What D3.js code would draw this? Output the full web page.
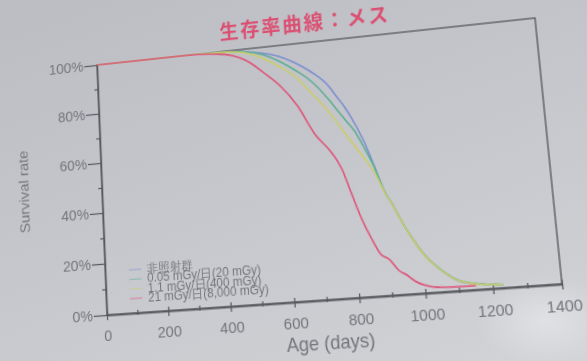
<!DOCTYPE html>
<html><head><meta charset="utf-8">
<script src="https://cdn.jsdelivr.net/npm/d3@7"></script>
<style>
html,body{margin:0;padding:0;width:587px;height:361px;overflow:hidden;}
body{background:linear-gradient(160deg,#bcbdc3 0%,#c5c6cb 45%,#cdced2 80%,#d3d4d8 100%);}
#glare{position:absolute;left:0;top:0;}
#chart{position:absolute;left:0;top:0;transform-origin:0 0;filter:blur(0.45px);}
text{font-family:"Liberation Sans",Arial,sans-serif;}
</style></head><body>
<svg id="glare" width="587" height="361">
  <defs><radialGradient id="gl" cx="0.5" cy="0.5" r="0.5">
    <stop offset="0" stop-color="#ffffff" stop-opacity="0.35"/>
    <stop offset="1" stop-color="#ffffff" stop-opacity="0"/></radialGradient></defs>
  <ellipse cx="545" cy="320" rx="70" ry="45" fill="url(#gl)"/>
</svg>
<svg id="chart" width="587" height="361"></svg>
<script>
// ---- data ----
const titleText = "生存率曲線：メス";
const xLabel = "Age (days)";
const yLabel = "Survival rate";
const xTicks = [0,200,400,600,800,1000,1200,1400];
const xMinor = [100,300,500,700,900,1100,1300];
const yTicks = [0,20,40,60,80,100];
const yMinor = [10,30,50,70,90];
const seriesNames = ["非照射群","0.05 mGy/日(20 mGy)","1.1 mGy/日(400 mGy)","21 mGy/日(8,000 mGy)"];
const seriesColors = ["#7b8fd0","#5fae95","#c9cd6a","#de5579"];
const days =    [0,100,200,300,350,400,450,500,550,600,650,700,750,775,800,825,850,875,900,925,950,975,1000,1050,1100,1150,1200,1230];
const control = [100,100,100,100,100,99.8,99.5,98.8,97.6,95.7,92.5,88.2,82.3,77.5,72.6,66.4,59,49.6,39.5,33.3,26.5,20.5,15.3,8.3,3.8,2.2,1.5,1.3];
const dose005 = [100,100,100,100,100,99.8,99.5,98.8,97,93.8,89.5,84.3,76.6,72,67.5,63,56.4,49,39.7,33.3,26.3,20.5,15.3,8.5,4,2.3,1.5,1.3];
const dose11 =  [100,100,100,100,100,99.8,99.4,98.2,95.5,91.6,86.8,79.4,71.3,66.5,61.5,56.7,51.9,46.8,39.3,33.2,26.4,20.4,15.2,8.3,3.9,2.2,1.5,1.3];
const dose21 =  [100,100,100,100,99.8,99.2,98,95,89.7,83.8,75.4,63.4,55.3,49.3,39.4,29.6,22,15.7,13.5,9.3,7.1,4.5,3,1.8,1.6,1.5,null,null];
const seriesValues = [control,dose005,dose11,dose21];

// ---- layout ----
const svg = d3.select("#chart");
const x = d3.scaleLinear().domain([0,1400]).range([100,550]);
const y = d3.scaleLinear().domain([0,100]).range([310,60]);
const axisCol = "#57585e", textCol = "#74757b";

// frame
svg.append("rect").attr("x",x(0)).attr("y",y(100)).attr("width",x(1400)-x(0)).attr("height",y(0)-y(100))
  .attr("fill","none").attr("stroke",axisCol).attr("stroke-width",1.3);

// y axis
svg.append("g").attr("transform",`translate(${x(0)},0)`)
  .call(d3.axisLeft(y).tickValues(yTicks).tickFormat(d=>d+"%").tickSize(14).tickSizeOuter(0).tickPadding(1));
svg.append("g").attr("transform",`translate(${x(0)},0)`)
  .call(d3.axisLeft(y).tickValues(yMinor).tickFormat("").tickSize(4).tickSizeOuter(0));
// x axis
const gx = svg.append("g").attr("transform",`translate(0,${y(0)})`)
  .call(d3.axisBottom(x).tickValues(xTicks).tickFormat(d3.format("d")).tickSize(5).tickSizeOuter(0).tickPadding(9));
gx.selectAll(".tick line").attr("y1",-4);
const gxm = svg.append("g").attr("transform",`translate(0,${y(0)})`)
  .call(d3.axisBottom(x).tickValues(xMinor).tickFormat("").tickSize(2).tickSizeOuter(0));
gxm.selectAll(".tick line").attr("y1",-3);
svg.selectAll(".domain").attr("stroke",axisCol).attr("stroke-width",1.3);
svg.selectAll(".tick line").attr("stroke",axisCol).attr("stroke-width",1.2);
svg.selectAll(".tick text").attr("fill",textCol).style("font-size","15px");

// curves
const line = d3.line().defined(d=>d[1]!=null).x(d=>x(d[0])).y(d=>y(d[1])).curve(d3.curveMonotoneX);
seriesValues.forEach((vals,i)=>{
  svg.append("path").datum(days.map((d,j)=>[d,vals[j]]))
    .attr("fill","none").attr("stroke",seriesColors[i]).attr("stroke-width",1.6).attr("d",line);
});

// legend
const lg = svg.append("g");
seriesNames.forEach((n,i)=>{
  const yy = 268 + i*9.3;
  lg.append("line").attr("x1",125).attr("x2",138).attr("y1",yy).attr("y2",yy)
    .attr("stroke",seriesColors[i]).attr("stroke-width",1).attr("opacity",0.6);
  lg.append("text").attr("x",144).attr("y",yy).attr("dy","0.35em").attr("fill",textCol)
    .style("font-size","12px").text(n);
});

// titles
svg.append("text").attr("x",321).attr("y",48).attr("text-anchor","middle").attr("fill","#db5072")
  .style("font-family","'Noto Sans CJK JP',sans-serif").style("font-weight","bold").style("font-size","20px")
  .style("letter-spacing","2px").text(titleText);
svg.append("text").attr("transform","translate(15,182) rotate(-90)").attr("text-anchor","middle").attr("dy","0.35em")
  .attr("fill",textCol).style("font-size","15px").text(yLabel);
svg.append("text").attr("x",326).attr("y",350).attr("text-anchor","middle").attr("dy","0.35em")
  .attr("fill",textCol).style("font-size","18px").text(xLabel);

// ---- photo perspective: map the flat plot frame onto the photographed quadrilateral ----
function homography(src,dst){
  const A=[],b=[];
  for(let i=0;i<4;i++){
    const [sx,sy]=src[i],[dx,dy]=dst[i];
    A.push([sx,sy,1,0,0,0,-dx*sx,-dx*sy]); b.push(dx);
    A.push([0,0,0,sx,sy,1,-dy*sx,-dy*sy]); b.push(dy);
  }
  const n=8;
  for(let c=0;c<n;c++){
    let p=c; for(let r=c+1;r<n;r++) if(Math.abs(A[r][c])>Math.abs(A[p][c])) p=r;
    [A[c],A[p]]=[A[p],A[c]]; [b[c],b[p]]=[b[p],b[c]];
    for(let r=0;r<n;r++){ if(r===c) continue; const f=A[r][c]/A[c][c];
      for(let k=c;k<n;k++) A[r][k]-=f*A[c][k]; b[r]-=f*b[c]; }
  }
  return b.map((v,i)=>v/A[i][i]);
}
const src=[[x(0),y(100)],[x(1400),y(100)],[x(0),y(0)],[x(1400),y(0)]];
const dst=[[97,65],[535,18],[107,315],[562,284]];
const h=homography(src,dst);
document.getElementById("chart").style.transform=
  `matrix3d(${h[0]},${h[3]},0,${h[6]},${h[1]},${h[4]},0,${h[7]},0,0,1,0,${h[2]},${h[5]},0,1)`;
</script>
</body></html>
